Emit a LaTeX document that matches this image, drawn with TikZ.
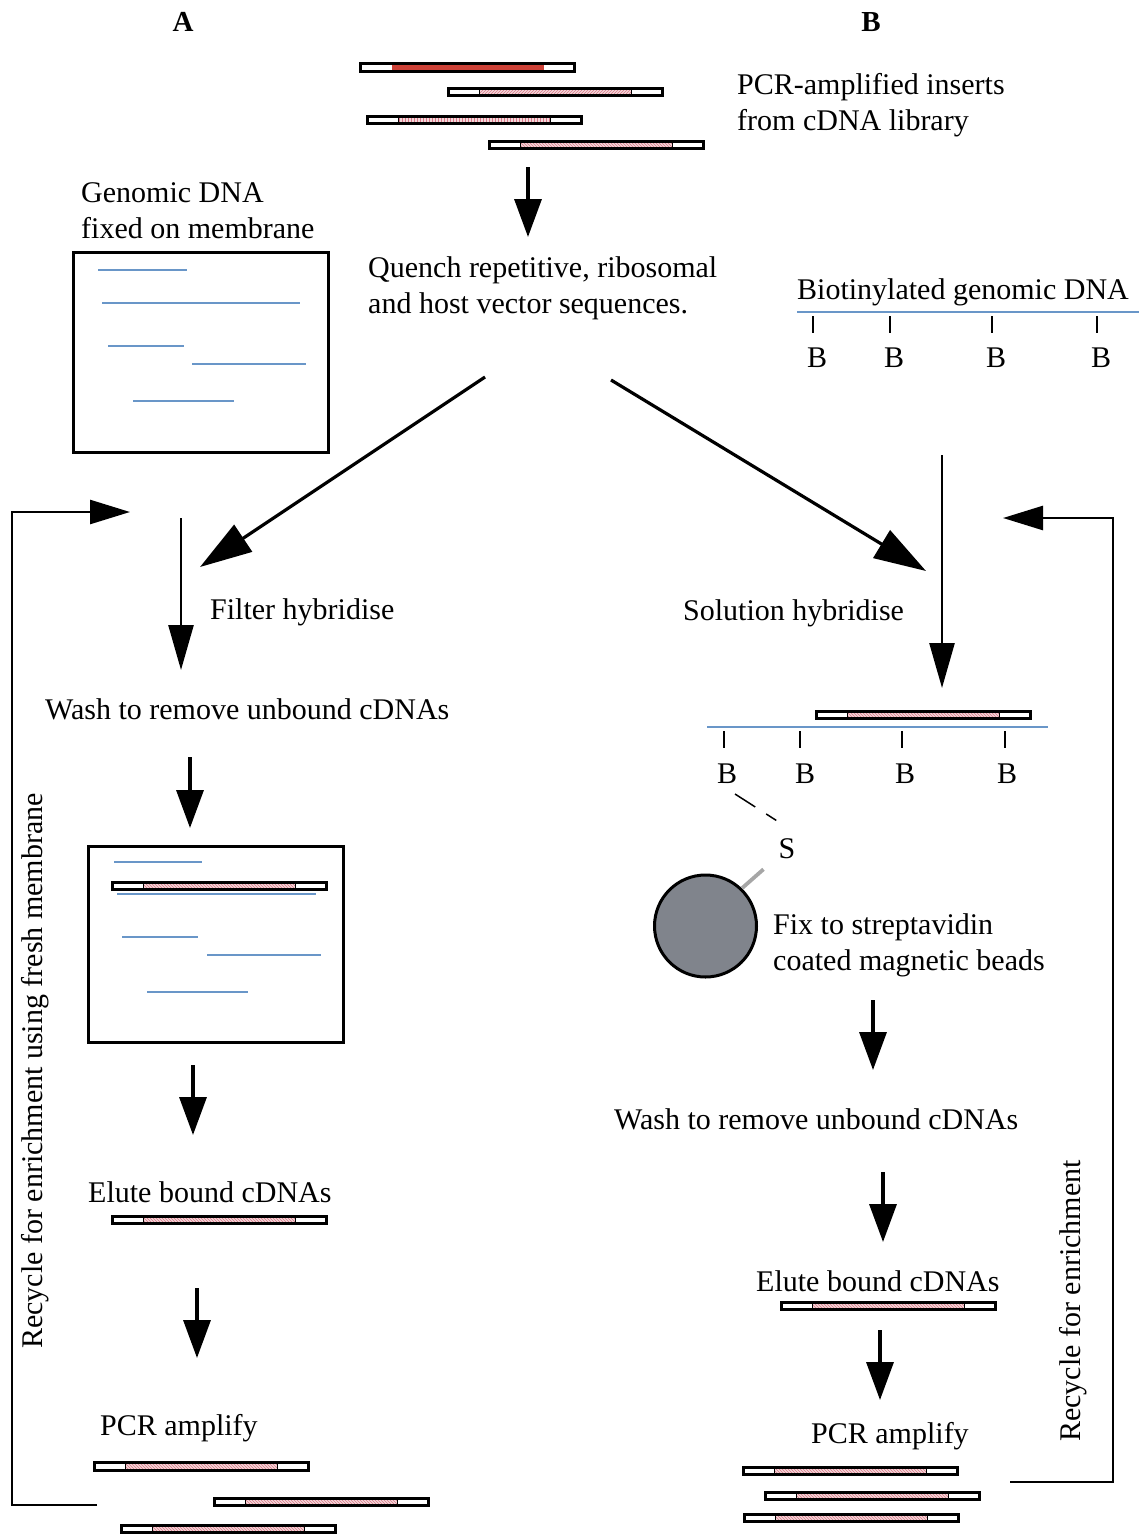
\documentclass[tikz,border=0pt]{standalone}
\usepackage{fontspec}
\setmainfont{Liberation Serif}
\usetikzlibrary{arrows.meta, positioning, patterns, calc}

\definecolor{dnablue}{RGB}{105,150,200}
\definecolor{insertpink}{RGB}{245,215,218}
\definecolor{hatchred}{RGB}{215,120,135}
\definecolor{insertred}{RGB}{205,65,55}
\definecolor{beadgrey}{RGB}{128,132,140}

\tikzset{
  txt/.style={anchor=west, inner sep=0pt, align=left, yshift=-2.5pt, font=\fontsize{30}{36}\selectfont},
  head/.style={inner sep=0pt, font=\fontsize{29}{36}\selectfont\bfseries},
  insertbase/.style={draw, line width=3.2pt, fill=white, minimum width=214pt,
    minimum height=7.5pt, inner sep=0pt, anchor=west},
  insert/.style={insertbase, path picture={
      \fill[insertpink] ([xshift=31pt]path picture bounding box.south west)
        rectangle ([xshift=-31pt]path picture bounding box.north east);
      \fill[pattern=#1, pattern color=hatchred]
        ([xshift=31pt]path picture bounding box.south west)
        rectangle ([xshift=-31pt]path picture bounding box.north east);
      \draw[line width=1.6pt] ([xshift=31pt]path picture bounding box.south west)
        -- ([xshift=31pt]path picture bounding box.north west);
      \draw[line width=1.6pt] ([xshift=-31pt]path picture bounding box.south east)
        -- ([xshift=-31pt]path picture bounding box.north east);}},
  insert/.default=north west lines,
  solidinsert/.style={insertbase, path picture={
      \fill[insertred] ([xshift=31pt]path picture bounding box.south west)
        rectangle ([xshift=-31pt]path picture bounding box.north east);}},
  membrane/.style={draw, line width=3pt, inner sep=0pt},
  dna/.style={dnablue, line width=2.6pt},
  tick/.style={line width=2.4pt},
  bead/.style={circle, draw, line width=3pt, fill=beadgrey, minimum size=102pt, inner sep=0pt},
  bigarrow/.style={line width=3.4pt, -{Triangle[length=38pt, width=27pt]}},
  diagarrow/.style={line width=3.2pt, -{Triangle[length=52pt, width=32pt]}},
  thinarrow/.style={line width=2.6pt, -{Triangle[length=45pt, width=25pt]}},
  looparrow/.style={line width=2.6pt, -{Triangle[length=40pt, width=24pt]}}
}

\begin{document}
\begin{tikzpicture}[x=1pt, y=-1pt]
\useasboundingbox (0,0) rectangle (1139,1536);

\path (183,22) node[head] (col-a) {A};
\path (871,22) node[head] (col-b) {B};

% cDNA inserts
\path (359,67.5) node[solidinsert] (ins1) {};
\path (447,92) node[insert=north east lines] (ins2) {};
\path (366,120) node[insert=vertical lines] (ins3) {};
\path (488,145) node[insert] (ins4) {};
\path (737,103) node[txt] (inserts-txt) {PCR-amplified inserts\\from cDNA library};

\path (368,286) node[txt] (quench) {Quench repetitive, ribosomal\\and host vector sequences.};
\coordinate (q-top) at (528,167);
\coordinate (q-bot) at (528,237);
\draw[bigarrow] (q-top) -- (q-bot);

% A: membrane
\path (81,208) node[txt] (genomic-txt) {Genomic DNA\\fixed on membrane};
\path (200.5,352) node[membrane, minimum width=255pt, minimum height=200pt] (mem1) {};
\draw[dna] (98,270) -- (187,270);
\draw[dna] (102,303) -- (300,303);
\draw[dna] (108,346) -- (184,346);
\draw[dna] (192,364) -- (306,364);
\draw[dna] (133,401) -- (234,401);

% B: biotinylated strand
\path (797,290) node[txt] (biotin-txt) {Biotinylated genomic DNA};
\draw[dna] (797,312) -- (1139,312);
\foreach \x [count=\i] in {813,890,992,1097} {
  \draw[tick] (\x,316) -- (\x,333);
  \path (\x+4,355) node[txt, anchor=center] (b-top-\i) {B};
}

% split
\coordinate (split-l) at (485,377);
\coordinate (split-r) at (611,380);
\coordinate (filter-in) at (200,567);
\coordinate (solution-in) at (926,571);
\draw[diagarrow] (split-l) -- (filter-in);
\draw[diagarrow] (split-r) -- (solution-in);

% A: filter
\path (210,610) node[txt] (filter) {Filter hybridise};
\coordinate (fa-top) at (181,518);
\coordinate (fa-bot) at (181,670);
\draw[thinarrow] (fa-top) -- (fa-bot);
\path (45,707) node[txt] (wash-a) {Wash to remove unbound cDNAs};
\coordinate (wa-top) at (190,757);
\coordinate (wa-bot) at (190,828);
\draw[bigarrow] (wa-top) -- (wa-bot);

\path (215.5,944) node[membrane, minimum width=255pt, minimum height=196pt] (mem2) {};
\draw[dna] (114,862) -- (202,862);
\draw[dna] (117,894) -- (316,894);
\path (111,886) node[insert] (mem-bar) {};
\draw[dna] (122,937) -- (198,937);
\draw[dna] (207,955) -- (321,955);
\draw[dna] (147,992) -- (248,992);

\coordinate (ea-top) at (193,1065);
\coordinate (ea-bot) at (193,1135);
\draw[bigarrow] (ea-top) -- (ea-bot);
\path (88,1190) node[txt] (elute-a) {Elute bound cDNAs};
\path (111,1220) node[insert] (elute-a-bar) {};
\coordinate (pa-top) at (197,1288);
\coordinate (pa-bot) at (197,1358);
\draw[bigarrow] (pa-top) -- (pa-bot);
\path (100,1426) node[txt] (pcr-a) {PCR amplify};
\path (93,1466.5) node[insert] (pcr-a1) {};
\path (213,1502) node[insert] (pcr-a2) {};
\path (120,1529) node[insert] (pcr-a3) {};

\path (35,1071) node[txt, anchor=center, yshift=2.5pt, rotate=90] (recycle-a) {Recycle for enrichment using fresh membrane};
\coordinate (ra-start) at (97,1505);
\coordinate (ra-corner) at (12,512);
\coordinate (ra-end) at (130,512);
\draw[looparrow] (ra-start) -| (ra-corner) -- (ra-end);

% B: solution
\path (683,611) node[txt] (solution) {Solution hybridise};
\coordinate (sb-top) at (942,455);
\coordinate (sb-bot) at (942,688);
\draw[thinarrow] (sb-top) -- (sb-bot);

\path (815,715) node[insert] (hyb-bar) {};
\draw[dna] (707,727) -- (1048,727);
\foreach \x/\lx [count=\i] in {724/727,800/805,902/905,1005/1007} {
  \draw[tick] (\x,731) -- (\x,748);
  \path (\lx,771) node[txt, anchor=center] (b-low-\i) {B};
}
\path (787,846) node[txt, anchor=center] (strep) {S};
\draw[line width=1.5pt, dash pattern=on 24pt off 13pt on 12pt off 20pt] (735,794) -- (785,826);
\path (705.5,926) node[bead] (bead) {};
\draw[gray!70, line width=3.8pt, shorten >=20pt] (bead.46) -- (strep);
\path (773,943) node[txt] (fix-txt) {Fix to streptavidin\\coated magnetic beads};

\coordinate (wb-top) at (873,1000);
\coordinate (wb-bot) at (873,1070);
\draw[bigarrow] (wb-top) -- (wb-bot);
\path (614,1117) node[txt] (wash-b) {Wash to remove unbound cDNAs};
\coordinate (eb-top) at (883,1172);
\coordinate (eb-bot) at (883,1242);
\draw[bigarrow] (eb-top) -- (eb-bot);
\path (756,1279) node[txt] (elute-b) {Elute bound cDNAs};
\path (780,1306) node[insert] (elute-b-bar) {};
\coordinate (pb-top) at (880,1330);
\coordinate (pb-bot) at (880,1400);
\draw[bigarrow] (pb-top) -- (pb-bot);
\path (811,1434) node[txt] (pcr-b) {PCR amplify};
\path (742,1471) node[insert] (pcr-b1) {};
\path (764,1496) node[insert] (pcr-b2) {};
\path (743,1518) node[insert] (pcr-b3) {};

\path (1073,1301) node[txt, anchor=center, yshift=2.5pt, rotate=90] (recycle-b) {Recycle for enrichment};
\coordinate (rb-start) at (1010,1482);
\coordinate (rb-corner) at (1113,518);
\coordinate (rb-end) at (1003,518);
\draw[looparrow] (rb-start) -| (rb-corner) -- (rb-end);
\end{tikzpicture}
\end{document}
